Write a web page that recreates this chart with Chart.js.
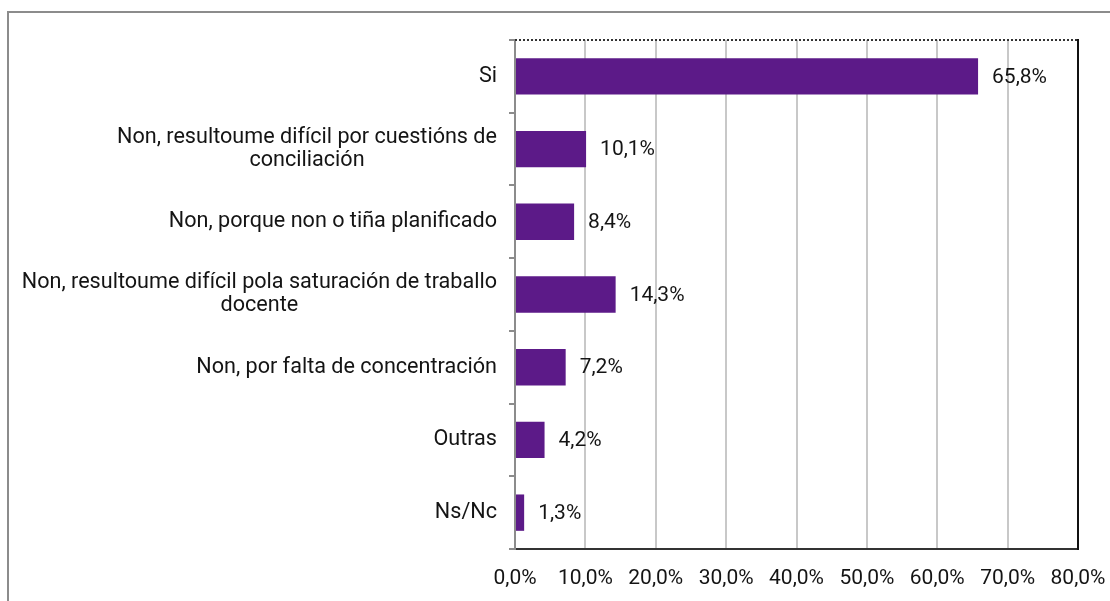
<!DOCTYPE html>
<html>
<head>
<meta charset="utf-8">
<script src="https://cdn.jsdelivr.net/npm/chart.js@4.4.1/dist/chart.umd.min.js"></script>
<style>
  html, body { margin: 0; padding: 0; background: #ffffff; }
  #wrap { position: relative; width: 1110px; height: 601px; }
</style>
</head>
<body>
<div id="wrap"><canvas id="c" width="1110" height="601"></canvas></div>
<script>
// ---- data ----
const categories = [
  ["Si"],
  ["Non, resultoume difícil por cuestións de", "conciliación"],
  ["Non, porque non o tiña planificado"],
  ["Non, resultoume difícil pola saturación de traballo", "docente"],
  ["Non, por falta de concentración"],
  ["Outras"],
  ["Ns/Nc"]
];
const values = [65.8, 10.1, 8.4, 14.3, 7.2, 4.2, 1.3];
const xTicks = [0, 10, 20, 30, 40, 50, 60, 70, 80];

const FONT = "Roboto, 'Noto Sans', sans-serif";
const FONT_SIZE = 21;
const CAT_FONT_SIZE = 21.6;
const TEXT = '#141414';
const fmt = v => v.toFixed(1).replace('.', ',') + '%';

const customDraw = {
  id: 'customDraw',
  beforeDraw(chart) {
    const ctx = chart.ctx;
    ctx.save();
    ctx.strokeStyle = '#8c8c8c';
    ctx.lineWidth = 2;
    ctx.beginPath();
    ctx.moveTo(8, 601);
    ctx.lineTo(8, 12);
    ctx.lineTo(1110, 12);
    ctx.stroke();
    ctx.restore();
  },
  afterDraw(chart) {
    const ctx = chart.ctx;
    const a = chart.chartArea;
    const ys = chart.scales.y;
    ctx.save();
    // top dotted border
    ctx.strokeStyle = '#333333';
    ctx.lineWidth = 2;
    ctx.setLineDash([2, 2]);
    ctx.beginPath();
    ctx.moveTo(a.left, a.top);
    ctx.lineTo(a.right, a.top);
    ctx.stroke();
    ctx.setLineDash([]);
    // right solid border
    ctx.strokeStyle = '#111111';
    ctx.beginPath();
    ctx.moveTo(a.right, a.top - 1);
    ctx.lineTo(a.right, a.bottom + 1);
    ctx.stroke();
    // data labels
    ctx.font = FONT_SIZE + 'px ' + FONT;
    ctx.fillStyle = TEXT;
    ctx.textBaseline = 'middle';
    ctx.textAlign = 'left';
    const meta = chart.getDatasetMeta(0);
    meta.data.forEach((bar, i) => {
      ctx.fillText(fmt(values[i]), bar.x + 14, bar.y + 1);
    });
    // category labels (block right-aligned, lines centred)
    ctx.font = CAT_FONT_SIZE + 'px ' + FONT;
    const rightEdge = 497;
    const lineH = 23;
    ctx.textAlign = 'center';
    categories.forEach((lines, i) => {
      const cy = ys.getPixelForValue(i);
      const w = Math.max(...lines.map(l => ctx.measureText(l).width));
      const cx = rightEdge - w / 2;
      const y0 = cy - (lines.length - 1) * lineH / 2;
      lines.forEach((l, k) => ctx.fillText(l, cx, y0 + k * lineH));
    });
    ctx.restore();
  }
};

new Chart(document.getElementById('c'), {
  type: 'bar',
  data: {
    labels: categories.map(c => c.join(' ')),
    datasets: [{
      data: values,
      backgroundColor: '#5c1a88',
      borderWidth: 0,
      barPercentage: 0.5,
      categoryPercentage: 1.0
    }]
  },
  options: {
    indexAxis: 'y',
    responsive: false,
    animation: false,
    devicePixelRatio: 1,
    layout: { padding: { top: 40, right: 32, bottom: 0, left: 0 } },
    plugins: { legend: { display: false }, tooltip: { enabled: false } },
    scales: {
      x: {
        min: 0, max: 80,
        afterBuildTicks: s => { s.ticks = xTicks.map(v => ({ value: v })); },
        afterFit: s => { s.height = 52; s.paddingLeft = 0; s.paddingRight = 0; },
        grid: { color: '#c8c8c8', lineWidth: 2, drawTicks: false },
        border: { color: '#333333', width: 2 },
        ticks: {
          padding: 17,
          color: TEXT,
          maxRotation: 0,
          font: { family: FONT, size: FONT_SIZE },
          callback: v => fmt(v)
        }
      },
      y: {
        offset: true,
        afterFit: s => { s.width = 515; s.paddingTop = 0; s.paddingBottom = 0; },
        grid: { drawOnChartArea: false, drawTicks: true, tickLength: 6, color: '#8c8c8c', lineWidth: 2, offset: true },
        border: { color: '#8c8c8c', width: 2 },
        ticks: { display: false }
      }
    }
  },
  plugins: [customDraw]
});
</script>
</body>
</html>
